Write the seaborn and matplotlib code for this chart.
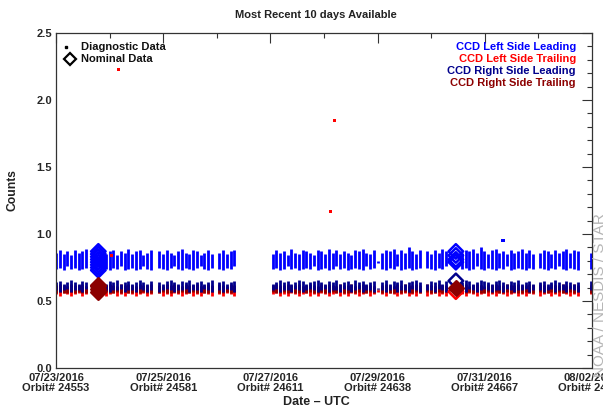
import numpy as np
import pandas as pd
import matplotlib
matplotlib.use("Agg")
import matplotlib.pyplot as plt
import seaborn as sns
from matplotlib.ticker import MultipleLocator, FixedLocator

# ---------------- data (days since 07/23/2016 00:00 UTC) ----------------
TICK_DAYS = [0, 2, 4, 6, 8, 10]
TICK_LABELS = ["07/23/2016\nOrbit# 24553", "07/25/2016\nOrbit# 24581",
               "07/27/2016\nOrbit# 24611", "07/29/2016\nOrbit# 24638",
               "07/31/2016\nOrbit# 24667", "08/02/2016\nOrbit# 24695"]

ORBIT_DAY = [
    0.00, 0.07, 0.14, 0.21, 0.28, 0.35, 0.42, 0.49, 0.56,
    0.93, 1.00, 1.07, 1.14, 1.21, 1.28, 1.35, 1.42, 1.49, 1.56, 1.63, 1.70, 1.77,
    1.93, 2.00, 2.07, 2.14, 2.21, 2.28, 2.35, 2.42, 2.49, 2.56, 2.63, 2.70, 2.77, 2.84, 2.91,
    3.05, 3.12, 3.19, 3.26, 3.33,
    4.04, 4.11, 4.18, 4.25, 4.32, 4.39, 4.46, 4.53, 4.60, 4.67, 4.74, 4.81, 4.88, 4.95,
    5.02, 5.09, 5.16, 5.23, 5.30, 5.37, 5.44, 5.51, 5.58, 5.65, 5.72, 5.79, 5.86, 5.93,
    6.00,
    6.09, 6.16, 6.23, 6.30, 6.37, 6.44, 6.51, 6.58, 6.65, 6.72, 6.79,
    6.93, 7.00, 7.07, 7.14, 7.21, 7.28,
    7.57, 7.64, 7.71, 7.78, 7.85, 7.92, 7.99, 8.06, 8.13, 8.20, 8.27, 8.34, 8.41, 8.48,
    8.55, 8.62, 8.69, 8.76, 8.83, 8.90,
    9.03, 9.10, 9.17, 9.24, 9.31, 9.38, 9.45, 9.52, 9.59, 9.66, 9.73,
    9.98,
]

# CCD Left Side Leading (blue): per-orbit range of diagnostic counts
LL_HI = [
    0.86, 0.88, 0.85, 0.87, 0.84, 0.88, 0.86, 0.87, 0.89,
    0.85, 0.87, 0.88, 0.84, 0.87, 0.86, 0.89, 0.85, 0.87, 0.88, 0.84, 0.86, 0.88,
    0.87, 0.85, 0.88, 0.86, 0.84, 0.87, 0.89, 0.86, 0.85, 0.88, 0.87, 0.84, 0.86, 0.88, 0.85,
    0.86, 0.88, 0.85, 0.87, 0.88,
    0.85, 0.88, 0.86, 0.87, 0.84, 0.89, 0.86, 0.85, 0.88, 0.87, 0.86, 0.84, 0.88, 0.87,
    0.85, 0.89, 0.86, 0.88, 0.85, 0.87, 0.86, 0.84, 0.88, 0.87, 0.89, 0.86, 0.85, 0.88,
    0.80,
    0.86, 0.88, 0.87, 0.89, 0.85, 0.88, 0.86, 0.90, 0.87, 0.85, 0.88,
    0.87, 0.85, 0.88, 0.86, 0.89, 0.87,
    0.86, 0.88, 0.87, 0.89, 0.86, 0.90, 0.87, 0.85, 0.88, 0.89, 0.86, 0.87, 0.85, 0.88,
    0.86, 0.87, 0.89, 0.86, 0.88, 0.85,
    0.86, 0.88, 0.87, 0.85, 0.88, 0.86, 0.87, 0.89, 0.86, 0.88, 0.87,
    0.86,
]
LL_LO = [
    0.74, 0.75, 0.73, 0.76, 0.74, 0.75, 0.73, 0.74, 0.75,
    0.74, 0.73, 0.75, 0.74, 0.76, 0.73, 0.74, 0.75, 0.73, 0.74, 0.76, 0.74, 0.73,
    0.75, 0.74, 0.73, 0.75, 0.76, 0.74, 0.73, 0.75, 0.74, 0.73, 0.75, 0.76, 0.74, 0.73, 0.75,
    0.74, 0.73, 0.75, 0.74, 0.76,
    0.74, 0.75, 0.73, 0.74, 0.76, 0.74, 0.75, 0.73, 0.74, 0.75, 0.74, 0.76, 0.73, 0.74,
    0.75, 0.73, 0.74, 0.76, 0.74, 0.75, 0.73, 0.74, 0.75, 0.74, 0.73, 0.76, 0.74, 0.75,
    0.78,
    0.74, 0.73, 0.75, 0.74, 0.76, 0.73, 0.74, 0.75, 0.73, 0.74, 0.75,
    0.75, 0.74, 0.73, 0.75, 0.74, 0.76,
    0.74, 0.75, 0.73, 0.74, 0.76, 0.74, 0.73, 0.75, 0.74, 0.73, 0.75, 0.74, 0.76, 0.73,
    0.74, 0.75, 0.74, 0.73, 0.75, 0.74,
    0.75, 0.74, 0.73, 0.75, 0.74, 0.76, 0.74, 0.73, 0.75, 0.74, 0.73,
    0.74,
]
# CCD Left Side Trailing (red)
LT_HI = [
    0.61, 0.62, 0.60, 0.61, 0.62, 0.60, 0.61, 0.62, 0.61,
    0.60, 0.62, 0.61, 0.60, 0.62, 0.61, 0.62, 0.60, 0.61, 0.62, 0.60, 0.61, 0.62,
    0.61, 0.60, 0.62, 0.61, 0.62, 0.60, 0.61, 0.62, 0.61, 0.60, 0.62, 0.61, 0.60, 0.62, 0.61,
    0.62, 0.61, 0.60, 0.62, 0.61,
    0.61, 0.60, 0.62, 0.61, 0.62, 0.60, 0.61, 0.62, 0.61, 0.60, 0.62, 0.61, 0.60, 0.62,
    0.61, 0.62, 0.60, 0.61, 0.62, 0.61, 0.60, 0.62, 0.61, 0.62, 0.60, 0.61, 0.62, 0.61,
    0.58,
    0.61, 0.62, 0.60, 0.61, 0.62, 0.61, 0.60, 0.62, 0.61, 0.62, 0.60,
    0.61, 0.62, 0.61, 0.60, 0.62, 0.61,
    0.62, 0.61, 0.60, 0.62, 0.61, 0.62, 0.60, 0.61, 0.62, 0.61, 0.60, 0.62, 0.61, 0.62,
    0.60, 0.61, 0.62, 0.61, 0.60, 0.62,
    0.61, 0.62, 0.60, 0.61, 0.62, 0.61, 0.60, 0.62, 0.61, 0.62, 0.61,
    0.62,
]
LT_LO = [
    0.55, 0.54, 0.56, 0.55, 0.54, 0.55, 0.56, 0.54, 0.55,
    0.54, 0.55, 0.56, 0.54, 0.55, 0.54, 0.56, 0.55, 0.54, 0.55, 0.56, 0.54, 0.55,
    0.56, 0.54, 0.55, 0.54, 0.56, 0.55, 0.54, 0.55, 0.56, 0.54, 0.55, 0.54, 0.56, 0.55, 0.54,
    0.55, 0.54, 0.56, 0.55, 0.54,
    0.55, 0.56, 0.54, 0.55, 0.54, 0.56, 0.55, 0.54, 0.55, 0.56, 0.54, 0.55, 0.54, 0.56,
    0.55, 0.54, 0.55, 0.56, 0.54, 0.55, 0.54, 0.56, 0.55, 0.54, 0.55, 0.56, 0.54, 0.55,
    0.57,
    0.55, 0.54, 0.56, 0.55, 0.54, 0.55, 0.56, 0.54, 0.55, 0.54, 0.56,
    0.54, 0.55, 0.56, 0.54, 0.55, 0.54,
    0.55, 0.54, 0.56, 0.55, 0.54, 0.55, 0.56, 0.54, 0.55, 0.54, 0.56, 0.55, 0.54, 0.55,
    0.56, 0.54, 0.55, 0.54, 0.56, 0.55,
    0.54, 0.55, 0.56, 0.54, 0.55, 0.54, 0.56, 0.55, 0.54, 0.55, 0.54,
    0.55,
]
# CCD Right Side Leading (navy)
RL_HI = [
    0.64, 0.65, 0.63, 0.64, 0.66, 0.64, 0.63, 0.65, 0.64,
    0.63, 0.65, 0.64, 0.66, 0.63, 0.64, 0.65, 0.63, 0.64, 0.66, 0.64, 0.63, 0.65,
    0.64, 0.63, 0.65, 0.66, 0.64, 0.63, 0.65, 0.64, 0.66, 0.63, 0.64, 0.65, 0.63, 0.64, 0.66,
    0.64, 0.65, 0.63, 0.64, 0.65,
    0.63, 0.64, 0.66, 0.64, 0.65, 0.63, 0.64, 0.66, 0.65, 0.63, 0.64, 0.65, 0.66, 0.64,
    0.63, 0.65, 0.64, 0.66, 0.63, 0.64, 0.65, 0.63, 0.66, 0.64, 0.65, 0.63, 0.64, 0.65,
    0.60,
    0.64, 0.66, 0.63, 0.65, 0.64, 0.66, 0.63, 0.64, 0.65, 0.66, 0.64,
    0.63, 0.65, 0.64, 0.66, 0.63, 0.65,
    0.64, 0.66, 0.65, 0.63, 0.64, 0.66, 0.65, 0.64, 0.63, 0.65, 0.66, 0.64, 0.63, 0.65,
    0.64, 0.66, 0.63, 0.64, 0.65, 0.63,
    0.64, 0.65, 0.63, 0.64, 0.66, 0.64, 0.63, 0.65, 0.64, 0.63, 0.64,
    0.65,
]
RL_LO = [
    0.58, 0.57, 0.58, 0.59, 0.57, 0.58, 0.58, 0.57, 0.59,
    0.58, 0.57, 0.58, 0.58, 0.59, 0.57, 0.58, 0.58, 0.57, 0.59, 0.58, 0.57, 0.58,
    0.57, 0.58, 0.59, 0.58, 0.57, 0.58, 0.58, 0.59, 0.57, 0.58, 0.58, 0.57, 0.59, 0.58, 0.57,
    0.58, 0.57, 0.59, 0.58, 0.57,
    0.58, 0.59, 0.57, 0.58, 0.58, 0.57, 0.59, 0.58, 0.57, 0.58, 0.59, 0.58, 0.57, 0.58,
    0.59, 0.57, 0.58, 0.58, 0.57, 0.59, 0.58, 0.57, 0.58, 0.59, 0.57, 0.58, 0.58, 0.57,
    0.59,
    0.58, 0.57, 0.58, 0.59, 0.57, 0.58, 0.58, 0.57, 0.59, 0.58, 0.57,
    0.58, 0.58, 0.57, 0.59, 0.58, 0.57,
    0.58, 0.57, 0.59, 0.58, 0.57, 0.58, 0.59, 0.58, 0.57, 0.58, 0.58, 0.57, 0.59, 0.58,
    0.57, 0.58, 0.58, 0.59, 0.57, 0.58,
    0.58, 0.57, 0.58, 0.59, 0.57, 0.58, 0.58, 0.57, 0.59, 0.58, 0.57,
    0.58,
]
# CCD Right Side Trailing (dark red)
RT_HI = [
    0.62, 0.63, 0.62, 0.61, 0.63, 0.62, 0.62, 0.63, 0.61,
    0.62, 0.63, 0.62, 0.61, 0.63, 0.62, 0.63, 0.62, 0.61, 0.63, 0.62, 0.62, 0.63,
    0.62, 0.61, 0.63, 0.62, 0.63, 0.62, 0.61, 0.63, 0.62, 0.62, 0.63, 0.61, 0.62, 0.63, 0.62,
    0.63, 0.62, 0.61, 0.63, 0.62,
    0.62, 0.63, 0.61, 0.62, 0.63, 0.62, 0.62, 0.63, 0.61, 0.62, 0.63, 0.62, 0.61, 0.63,
    0.62, 0.63, 0.62, 0.61, 0.63, 0.62, 0.62, 0.63, 0.61, 0.62, 0.63, 0.62, 0.62, 0.61,
    0.59,
    0.62, 0.63, 0.62, 0.61, 0.63, 0.62, 0.63, 0.61, 0.62, 0.63, 0.62,
    0.63, 0.62, 0.61, 0.63, 0.62, 0.62,
    0.62, 0.63, 0.61, 0.62, 0.63, 0.62, 0.61, 0.63, 0.62, 0.63, 0.62, 0.61, 0.63, 0.62,
    0.62, 0.63, 0.61, 0.62, 0.63, 0.62,
    0.63, 0.62, 0.61, 0.63, 0.62, 0.62, 0.63, 0.61, 0.62, 0.63, 0.62,
    0.62,
]
RT_LO = [
    0.56, 0.57, 0.56, 0.56, 0.57, 0.56, 0.57, 0.56, 0.56,
    0.57, 0.56, 0.56, 0.57, 0.56, 0.57, 0.56, 0.56, 0.57, 0.56, 0.57, 0.56, 0.56,
    0.56, 0.57, 0.56, 0.56, 0.57, 0.56, 0.57, 0.56, 0.56, 0.57, 0.56, 0.57, 0.56, 0.56, 0.57,
    0.56, 0.56, 0.57, 0.56, 0.57,
    0.57, 0.56, 0.56, 0.57, 0.56, 0.57, 0.56, 0.56, 0.57, 0.56, 0.57, 0.56, 0.56, 0.57,
    0.56, 0.56, 0.57, 0.56, 0.57, 0.56, 0.56, 0.57, 0.56, 0.57, 0.56, 0.56, 0.57, 0.56,
    0.58,
    0.56, 0.57, 0.56, 0.56, 0.57, 0.56, 0.57, 0.56, 0.56, 0.57, 0.56,
    0.57, 0.56, 0.56, 0.57, 0.56, 0.57,
    0.56, 0.56, 0.57, 0.56, 0.57, 0.56, 0.56, 0.57, 0.56, 0.57, 0.56, 0.56, 0.57, 0.56,
    0.57, 0.56, 0.56, 0.57, 0.56, 0.56,
    0.57, 0.56, 0.56, 0.57, 0.56, 0.57, 0.56, 0.56, 0.57, 0.56, 0.57,
    0.56,
]

# isolated diagnostic points
OUT_DAY = [1.16, 5.12, 5.20, 1.03, 8.34]
OUT_VAL = [2.23, 1.17, 1.85, 0.84, 0.95]
OUT_SERIES = ["CCD Left Side Trailing", "CCD Left Side Trailing",
              "CCD Left Side Trailing", "CCD Left Side Trailing",
              "CCD Left Side Leading"]

# nominal data (diamonds)
NOM_DAY = [0.79, 0.79, 0.79, 0.79, 0.79, 0.79, 0.79, 0.79,
           0.79, 0.79, 0.79, 0.79,
           7.46, 7.46, 7.46, 7.46,
           7.46, 7.46, 7.46]
NOM_VAL = [0.73, 0.75, 0.77, 0.79, 0.81, 0.83, 0.85, 0.87,
           0.57, 0.59, 0.61, 0.62,
           0.79, 0.81, 0.84, 0.87,
           0.57, 0.60, 0.65]
NOM_SERIES = ["CCD Left Side Leading"] * 8 + ["CCD Right Side Trailing"] * 4 + \
             ["CCD Left Side Leading"] * 4 + \
             ["CCD Left Side Trailing", "CCD Right Side Trailing", "CCD Right Side Leading"]

SERIES = ["CCD Left Side Leading", "CCD Left Side Trailing",
          "CCD Right Side Leading", "CCD Right Side Trailing"]
COLORS = {"CCD Left Side Leading": "#0000ff", "CCD Left Side Trailing": "#ff0000",
          "CCD Right Side Leading": "#00008c", "CCD Right Side Trailing": "#8c0000"}

# ---------------- build tables ----------------
ranges = pd.concat([
    pd.DataFrame({"day": ORBIT_DAY, "lo": LL_LO, "hi": LL_HI, "series": SERIES[0]}),
    pd.DataFrame({"day": ORBIT_DAY, "lo": LT_LO, "hi": LT_HI, "series": SERIES[1]}),
    pd.DataFrame({"day": ORBIT_DAY, "lo": RT_LO, "hi": RT_HI, "series": SERIES[3]}),
    pd.DataFrame({"day": ORBIT_DAY, "lo": RL_LO, "hi": RL_HI, "series": SERIES[2]}),
], ignore_index=True)
outs = pd.DataFrame({"day": OUT_DAY, "value": OUT_VAL, "series": OUT_SERIES})
nom = pd.DataFrame({"day": NOM_DAY, "value": NOM_VAL, "series": NOM_SERIES})

# ---------------- figure ----------------
sns.set_style("white")
plt.rcParams["font.family"] = ["Liberation Sans", "DejaVu Sans"]
plt.rcParams["font.weight"] = "bold"

fig = plt.figure(figsize=(6.03, 4.12), dpi=100)
ax = fig.add_axes([56 / 603, 1 - 368 / 412, 536 / 603, 335 / 412])

for s in [SERIES[0], SERIES[1], SERIES[3], SERIES[2]]:
    sub = ranges[ranges["series"] == s]
    ax.vlines(sub["day"], sub["lo"], sub["hi"], colors=COLORS[s], lw=2.0, zorder=2)

sns.scatterplot(data=outs, x="day", y="value", hue="series", palette=COLORS,
                marker="s", s=5, linewidth=0, legend=False, ax=ax, zorder=3)

for s in SERIES:
    sub = nom[nom["series"] == s]
    if len(sub) == 0:
        continue
    filled = s == "CCD Right Side Trailing"
    sns.scatterplot(x=sub["day"], y=sub["value"], marker="D", s=55,
                    facecolor=COLORS[s] if filled else "none",
                    edgecolor=COLORS[s], linewidth=1.8, legend=False, ax=ax, zorder=4)

ax.set_xlim(0, 10)
ax.set_ylim(0, 2.5)
ax.xaxis.set_major_locator(FixedLocator(TICK_DAYS))
ax.set_xticklabels(TICK_LABELS, fontsize=8, fontweight="bold", linespacing=1.0)
ax.xaxis.set_minor_locator(MultipleLocator(1))
ax.yaxis.set_minor_locator(MultipleLocator(0.1))
ax.set_yticks([0, 0.5, 1.0, 1.5, 2.0, 2.5])
ax.set_yticklabels(["0.0", "0.5", "1.0", "1.5", "2.0", "2.5"], fontsize=8, fontweight="bold")
ax.tick_params(which="both", direction="in", top=True, right=True, color="#333333", width=0.8)
ax.tick_params(which="major", length=7)
ax.tick_params(which="minor", length=3.5)
ax.tick_params(axis="x", which="major", pad=3.5)
ax.tick_params(axis="y", which="major", pad=3)
for sp in ax.spines.values():
    sp.set_color("#333333")
    sp.set_linewidth(0.9)
ax.set_xlabel("")
ax.set_ylabel("")

fig.text(316 / 603, 1 - 15 / 412, "Most Recent 10 days Available", ha="center", va="center",
         fontsize=8, fontweight="bold", color="#222222")
fig.text(316 / 603, 1 - 402 / 412, "Date \u2013 UTC", ha="center", va="center",
         fontsize=9, fontweight="bold", color="#222222")
fig.text(13 / 603, 1 - 190 / 412, "Counts", ha="center", va="center", rotation=90,
         fontsize=8.7, fontweight="bold", color="#222222")

# legends
ax.plot([0.019], [0.958], marker="s", ms=1.6, color="black", transform=ax.transAxes, ls="none")
ax.plot([0.027], [0.921], marker="D", ms=6, mfc="none", mec="black", mew=1.6,
        transform=ax.transAxes, ls="none")
ax.text(0.047, 0.958, "Diagnostic Data", transform=ax.transAxes, fontsize=8,
        fontweight="bold", va="center", ha="left", color="#111111")
ax.text(0.047, 0.921, "Nominal Data", transform=ax.transAxes, fontsize=8,
        fontweight="bold", va="center", ha="left", color="#111111")
for i, s in enumerate(SERIES):
    ax.text(0.970, 0.958 - i * 0.0355, s, transform=ax.transAxes, fontsize=8,
            fontweight="bold", va="center", ha="right", color=COLORS[s])

fig.text(600 / 603, 1 - 295 / 412, "NOAA / NESDIS / STAR", rotation=90, ha="center",
         va="center", fontsize=11, fontweight="normal", color="#b5b5b5")

fig.savefig("out.png", dpi=100)
